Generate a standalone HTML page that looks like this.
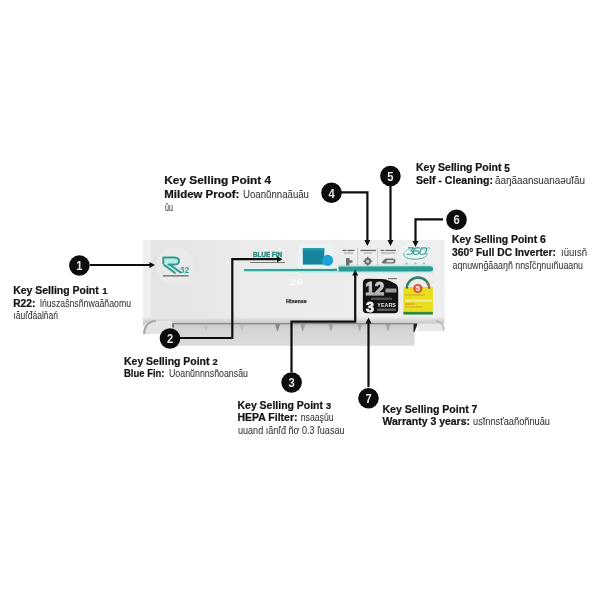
<!DOCTYPE html>
<html><head><meta charset="utf-8">
<style>
html,body{margin:0;padding:0;background:#fff;}
body{width:600px;height:600px;position:relative;overflow:hidden;font-family:"Liberation Sans",sans-serif;}
svg{position:absolute;left:0;top:0;will-change:transform;filter:blur(0.45px);}
</style></head>
<body>
<svg width="600" height="600" viewBox="0 0 600 600">
<defs>
  <linearGradient id="panel" x1="0" y1="0" x2="1" y2="0">
    <stop offset="0" stop-color="#e4e4e4"/>
    <stop offset="0.2" stop-color="#e7e7e7"/>
    <stop offset="0.35" stop-color="#ebebeb"/>
    <stop offset="1" stop-color="#eeeeee"/>
  </linearGradient>
  <linearGradient id="grille" x1="0" y1="0" x2="0" y2="1">
    <stop offset="0" stop-color="#a9a9a9"/>
    <stop offset="0.08" stop-color="#c8c8c8"/>
    <stop offset="0.3" stop-color="#d4d4d4"/>
    <stop offset="1" stop-color="#dcdcdc"/>
  </linearGradient>
  <linearGradient id="band" x1="0" y1="0" x2="0" y2="1">
    <stop offset="0" stop-color="#e8e8e8"/>
    <stop offset="0.45" stop-color="#d2d2d2"/>
    <stop offset="1" stop-color="#bababa"/>
  </linearGradient>
  <linearGradient id="lstrip" x1="0" y1="0" x2="1" y2="0">
    <stop offset="0" stop-color="#f4f4f4"/>
    <stop offset="0.3" stop-color="#ececec"/>
    <stop offset="0.8" stop-color="#f1f1f1"/>
    <stop offset="1" stop-color="#e8e8e8"/>
  </linearGradient>
  <linearGradient id="stripe" x1="0" y1="0" x2="1" y2="0">
    <stop offset="0" stop-color="#3aa79e"/>
    <stop offset="1" stop-color="#2a9a92"/>
  </linearGradient>
</defs>
<!-- grille -->
<rect x="172" y="322.5" width="242.5" height="23.3" fill="url(#grille)"/>
<g><path d="M203.5 324 L208.5 324 L206.3 331 L205.5 331 Z" fill="#c4c4c4"/><path d="M239.5 324 L244.5 324 L242.3 331 L241.5 331 Z" fill="#c2c2c2"/><path d="M275.1 324 L280.1 324 L277.90000000000003 331 L277.1 331 Z" fill="#8a8a8a"/><path d="M300.3 324 L305.3 324 L303.1 331 L302.3 331 Z" fill="#a0a0a0"/><path d="M328.5 324 L333.5 324 L331.3 331 L330.5 331 Z" fill="#a4a4a4"/><path d="M357.2 324 L362.2 324 L360.0 331 L359.2 331 Z" fill="#a8a8a8"/><path d="M385.5 324 L390.5 324 L388.3 331 L387.5 331 Z" fill="#a8a8a8"/></g>
<path d="M413.5 322.5 L417.6 322.5 L417.6 324 L414.5 332 L413.5 332 Z" fill="#222"/>
<rect x="172.5" y="322.5" width="1.2" height="5" fill="#444"/>
<!-- front panel -->
<rect x="143" y="240" width="301.5" height="79" fill="url(#panel)"/>
<rect x="142.5" y="240" width="9" height="79" fill="url(#lstrip)"/>
<rect x="433.3" y="240" width="11.2" height="79" fill="#efefef"/>
<!-- lip -->
<path d="M143 334 Q143 320 155 319 L172 319 L172 334 Z" fill="#e4e4e4"/>
<path d="M417.6 319 L435 319 Q444.8 319.5 444.8 329 L444.8 331.2 L417.6 331.2 Z" fill="#e8e8e8"/>
<path d="M143 317.5 L444.5 317.5 L444.5 323.5 L172 323.5 L172 321 L150 321 Q145 323 143 326 Z" fill="url(#band)"/>
<path d="M144.2 334 Q144.5 321.5 156 321" fill="none" stroke="#a9a9a9" stroke-width="2.2"/>

<path d="M436 321 Q443.5 321.5 443.5 330" fill="none" stroke="#b8b8b8" stroke-width="1.6"/>
<rect x="172" y="323" width="242" height="1.3" fill="#8a8a8a"/>
<!-- R32 logo -->
<circle cx="175" cy="266" r="19" fill="#eaeaea"/>
<path d="M164.5 258.5 L174 258.5 Q177.6 259 177.6 261 Q177.4 263.4 174 263.4 L164.5 263.4 Z M165 264.5 L170.5 264.5 L179.5 272 L174.5 272 Z" fill="#b4ebe4"/>
<g fill="none" stroke="#2e9a90" stroke-width="2" stroke-linejoin="round" stroke-linecap="round">
  <path d="M163.3 263.5 L163.3 257.4 L174.5 257.4 Q179 257.7 179 261 Q178.8 264.5 174.5 264.6 L168.5 264.6"/>
  <path d="M164.2 265 L175 273"/>
  <path d="M170.5 265 L180.5 272.5"/>
</g>
<text x="179.8" y="273" font-family="Liberation Sans" font-weight="bold" font-size="8.5" fill="#35a598" textLength="9.5" lengthAdjust="spacingAndGlyphs">32</text>
<rect x="163" y="275.2" width="25.7" height="1.3" fill="#6a6a6a"/>
<!-- blue fin -->
<rect x="244" y="266.8" width="60" height="6" fill="#d9f3ef" opacity="0.8"/>
<text x="253" y="256.6" font-family="Liberation Sans" font-weight="bold" font-size="6.3" fill="#358f86" stroke="#358f86" stroke-width="0.45" textLength="29" lengthAdjust="spacingAndGlyphs">BLUE FIN</text>
<rect x="250" y="262" width="35" height="1" fill="#777"/>
<path d="M244 269 L337 268.8 L337 271.3 L244 271.3 Z" fill="url(#stripe)"/>
<rect x="338" y="264.5" width="95.5" height="2" fill="#c4ecea"/>
<path d="M338.5 266.6 L430 266.2 Q433.2 266.4 433.2 269 Q433.2 271.6 430 271.7 L338.5 271.7 Z" fill="#2a9c94"/>
<rect x="300" y="271.7" width="133" height="1.6" fill="#c8ecea"/>
<!-- filter -->
<rect x="298" y="244.5" width="36" height="24" rx="3" fill="#e9f4f6"/>
<rect x="302.8" y="248.3" width="21.5" height="16.3" fill="#17869c"/>
<rect x="302.8" y="248.3" width="21.5" height="2.5" fill="#2596ac"/>
<circle cx="327.6" cy="260.4" r="5.6" fill="#1fa2d6"/>
<!-- 26 -->
<text x="289.3" y="285.3" font-family="Liberation Sans" font-weight="bold" font-size="8.2" fill="#fbfbfb" textLength="14" lengthAdjust="spacingAndGlyphs">26</text>
<!-- Hisense -->
<text x="286" y="302.9" font-family="Liberation Sans" font-weight="bold" font-size="4.6" fill="#333" stroke="#333" stroke-width="0.25" textLength="20.7" lengthAdjust="spacingAndGlyphs">Hisense</text>
<!-- control icons -->
<g fill="#6a6a6a">
  <rect x="342.5" y="249.8" width="4" height="1.3"/><rect x="347.5" y="249.8" width="7" height="1.3"/>
  <rect x="360.5" y="249.8" width="15.5" height="1.3"/>
  <rect x="380.5" y="249.8" width="4" height="1.3"/><rect x="385.5" y="249.8" width="10.5" height="1.3"/>
</g>
<g fill="#9a9a9a">
  <rect x="344" y="252.6" width="9" height="0.9"/>
  <rect x="364" y="252.6" width="8" height="0.9"/>
  <rect x="381" y="252.6" width="14" height="0.9"/>
</g>
<g fill="#6e6e6e">
  <path d="M346 258 L349.5 258 L349.5 260 L352.5 260.5 L352.5 262.5 L349.5 263 L349.5 265.5 L346 265.5 Z"/>
  <circle cx="367.7" cy="261.3" r="3.5"/>
  <path d="M381.5 262.5 L384 259.8 Q385 258.5 387 258.5 L392.5 258.5 Q395.5 258.7 395.5 261 Q395.3 263.6 392.5 263.6 L383 263.6 Z"/>
</g>
<g fill="#6e6e6e">
  <rect x="367" y="256.8" width="1.4" height="9"/><rect x="363.2" y="260.6" width="9" height="1.4"/>
</g>
<circle cx="367.7" cy="261.3" r="1.5" fill="#cfcfcf"/>
<path d="M387.5 260 L392 260 Q393.8 260.2 393.8 261 Q393.6 262.2 392 262.2 L386 262.2 Z" fill="#e2e2e2"/>
<rect x="357.4" y="248" width="0.7" height="18" fill="#c0c0c0"/>
<rect x="377.3" y="248" width="0.7" height="18" fill="#c0c0c0"/>
<!-- 360 logo -->
<ellipse cx="415.5" cy="252" rx="15" ry="10" fill="#eff5f5"/>
<path d="M404 252.5 Q401.5 258.8 415.2 259.3 Q428.5 258.8 427 252.5" fill="none" stroke="#4fa9a0" stroke-width="1"/>
<path d="M404.5 251.5 Q407 249.5 410 249.2 M421 249.2 Q425 249.6 426.5 251.3" fill="none" stroke="#7cc0b9" stroke-width="0.7"/>
<g fill="none" stroke="#2f9c92" stroke-width="1.15" stroke-linejoin="round" stroke-linecap="round">
<path d="M408.5 247.9 L413.8 247.9 L411 250.9 Q413 251 412.7 252.6 Q412.2 254.2 409.5 254.2 L406.9 254.2"/>
<path d="M419.6 247.9 L416.2 247.9 Q414.2 248.1 413.8 250.5 L413.3 252.5 Q413.1 254.2 415.2 254.2 L416.6 254.2 Q418.6 254.2 418.9 252.5 Q419.1 250.9 417.1 250.9 L414 250.9"/>
<path d="M422.2 247.9 L425.4 247.9 Q426.9 248.1 426.6 249.5 L425.6 252.8 Q425.1 254.2 423.6 254.2 L420.8 254.2 Q419.5 254 419.9 252.5 L420.9 249.1 Q421.3 247.9 422.2 247.9 Z"/>
</g>
<circle cx="429" cy="248.3" r="1" fill="none" stroke="#5fb3aa" stroke-width="0.6"/>
<g fill="#8cc4bf">
  <circle cx="406.5" cy="263.5" r="1.1"/>
  <circle cx="415.5" cy="263.5" r="1.1"/>
  <circle cx="424" cy="263.5" r="1.1"/>
</g>
<!-- warranty badge -->
<path d="M367.5 278.8 L382 279 Q386 279.2 390 281 L395 283.5 Q398.2 285.5 398.2 289 L398.2 309.5 Q398.2 313.3 394.5 313.3 L366.8 313.3 Q362.9 313.3 362.9 309.5 L362.9 283 Q362.9 278.8 367.5 278.8 Z" fill="#121212"/>
<defs><linearGradient id="g12" x1="0" y1="0" x2="0" y2="1"><stop offset="0" stop-color="#f0f0f0"/><stop offset="0.5" stop-color="#c8c8c8"/><stop offset="1" stop-color="#9a9a9a"/></linearGradient></defs><text x="365.3" y="294.6" font-family="Liberation Sans" font-weight="bold" font-size="18" fill="url(#g12)" stroke="#bdbdbd" stroke-width="1.1" textLength="19" lengthAdjust="spacingAndGlyphs">12</text>
<rect x="385.5" y="288.5" width="11" height="4" fill="#9a9a9a"/>
<rect x="372" y="294.6" width="12" height="0.8" fill="#888"/>
<rect x="371" y="297.5" width="21" height="2.5" fill="#4a4a4a"/>
<text x="366" y="312.2" font-family="Liberation Sans" font-weight="bold" font-size="14" fill="#eeeeee" stroke="#eeeeee" stroke-width="0.8" textLength="8" lengthAdjust="spacingAndGlyphs">3</text>
<text x="377.3" y="307.2" font-family="Liberation Sans" font-weight="bold" font-size="4.6" fill="#e4e4e4" textLength="18.7" lengthAdjust="spacingAndGlyphs">YEARS</text>
<rect x="377.3" y="308.5" width="18.7" height="2.5" fill="#5a5a5a"/>
<rect x="388" y="278" width="9" height="1.2" fill="#7a7a7a"/>
<!-- energy label -->
<path d="M405.5 288 A12.5 12 0 0 1 430.5 288 Z" fill="#ececec"/>
<rect x="403.4" y="287" width="29.5" height="25.6" fill="#e9dd1e"/>
<rect x="403.4" y="311.9" width="29.5" height="2.7" fill="#2e8a42"/>
<path d="M406.8 288.5 A11.2 11 0 0 1 429.2 288.5" fill="none" stroke="#2f7f62" stroke-width="2.4"/>
<path d="M427.5 282 A11.2 11 0 0 1 429.2 288.5" fill="none" stroke="#a8703a" stroke-width="2"/>
<circle cx="417.9" cy="288.5" r="4.6" fill="#d84c2c"/>
<circle cx="417.9" cy="288.5" r="3.4" fill="#e8684a"/>
<text x="416.1" y="291" font-family="Liberation Sans" font-weight="bold" font-size="6.5" fill="#fff">5</text>
<rect x="405" y="299.6" width="27" height="2" fill="#f4f0a0"/>
<rect x="405" y="294.5" width="20" height="0.9" fill="#b8a820"/>
<rect x="405" y="303.5" width="10" height="1" fill="#e08a30"/>
<rect x="405" y="306.5" width="18" height="0.9" fill="#c0b030"/>

<g stroke="#0e0e0e" stroke-width="2.2" fill="none">
  <path d="M90 265 L151 265"/>
  <path d="M180 338 L232.3 338 L232.3 259.2 L278 259.2"/>
  <path d="M291.5 372 L291.5 321.6 L355.2 321.6 L355.2 275"/>
  <path d="M341 192.3 L367.4 192.3 L367.4 241"/>
  <path d="M390.5 186 L390.5 241"/>
  <path d="M443 219.4 L415.5 219.4 L415.5 242"/>
  <path d="M368.5 387 L368.5 322"/>
</g>
<g fill="#0e0e0e">
  <path d="M155 265 L149.5 262 L149.5 268 Z"/>
  <path d="M282.5 259.2 L277 256.2 L277 262.2 Z"/>
  <path d="M355.2 269.8 L352.2 275.5 L358.2 275.5 Z"/>
  <path d="M367.4 246 L364.4 240 L370.4 240 Z"/>
  <path d="M390.5 246 L387.5 240 L393.5 240 Z"/>
  <path d="M415.5 247 L412.5 241 L418.5 241 Z"/>
  <path d="M368.5 317.5 L365.5 323.5 L371.5 323.5 Z"/>
</g>
<circle cx="79.4" cy="265.5" r="10.3" fill="#0c0c0c"/><text x="76.30000000000001" y="270.2" font-family="Liberation Sans" font-weight="bold" font-size="13" fill="#e6e6e6" textLength="6.2" lengthAdjust="spacingAndGlyphs">1</text><circle cx="170" cy="338.5" r="10.3" fill="#0c0c0c"/><text x="166.9" y="343.2" font-family="Liberation Sans" font-weight="bold" font-size="13" fill="#e6e6e6" textLength="6.2" lengthAdjust="spacingAndGlyphs">2</text><circle cx="291.6" cy="382.5" r="10.3" fill="#0c0c0c"/><text x="288.5" y="387.2" font-family="Liberation Sans" font-weight="bold" font-size="13" fill="#e6e6e6" textLength="6.2" lengthAdjust="spacingAndGlyphs">3</text><circle cx="331.5" cy="192.8" r="10.3" fill="#0c0c0c"/><text x="328.4" y="197.5" font-family="Liberation Sans" font-weight="bold" font-size="13" fill="#e6e6e6" textLength="6.2" lengthAdjust="spacingAndGlyphs">4</text><circle cx="390.4" cy="176" r="10.3" fill="#0c0c0c"/><text x="387.29999999999995" y="180.7" font-family="Liberation Sans" font-weight="bold" font-size="13" fill="#e6e6e6" textLength="6.2" lengthAdjust="spacingAndGlyphs">5</text><circle cx="456.5" cy="219.7" r="10.3" fill="#0c0c0c"/><text x="453.4" y="224.39999999999998" font-family="Liberation Sans" font-weight="bold" font-size="13" fill="#e6e6e6" textLength="6.2" lengthAdjust="spacingAndGlyphs">6</text><circle cx="368.5" cy="398.3" r="10.3" fill="#0c0c0c"/><text x="365.4" y="403.0" font-family="Liberation Sans" font-weight="bold" font-size="13" fill="#e6e6e6" textLength="6.2" lengthAdjust="spacingAndGlyphs">7</text>
<text x="13.2" y="293.5" font-family="Liberation Sans" font-weight="bold" font-size="10" fill="#151515" stroke="#151515" stroke-width="0.22" textLength="85.5" lengthAdjust="spacingAndGlyphs" >Key Selling Point</text><text x="102.2" y="293.7" font-family="Liberation Sans" font-weight="bold" font-size="9.5" fill="#151515" stroke="#151515" stroke-width="0.22" textLength="5.3" lengthAdjust="spacingAndGlyphs" >1</text><text x="13.2" y="306.5" font-family="Liberation Sans" font-weight="bold" font-size="10" fill="#151515" stroke="#151515" stroke-width="0.22" textLength="22.2" lengthAdjust="spacingAndGlyphs" >R22:</text><text x="40" y="306.5" font-family="Liberation Sans" font-size="10.2" fill="#333333" stroke="#333333" stroke-width="0.05" textLength="91" lengthAdjust="spacingAndGlyphs" >lńuszaŝnsñnwaăñaomu</text><text x="13.5" y="318.5" font-family="Liberation Sans" font-size="10.2" fill="#333333" stroke="#333333" stroke-width="0.05" textLength="44.5" lengthAdjust="spacingAndGlyphs" >ıăuľđáalňań</text><text x="164.3" y="184" font-family="Liberation Sans" font-weight="bold" font-size="11" fill="#151515" stroke="#151515" stroke-width="0.22" textLength="106.8" lengthAdjust="spacingAndGlyphs" >Key Selling Point 4</text><text x="164.3" y="197.5" font-family="Liberation Sans" font-weight="bold" font-size="11" fill="#151515" stroke="#151515" stroke-width="0.22" textLength="75" lengthAdjust="spacingAndGlyphs" >Mildew Proof:</text><text x="243" y="197.5" font-family="Liberation Sans" font-size="11.5" fill="#333333" stroke="#333333" stroke-width="0.05" textLength="66" lengthAdjust="spacingAndGlyphs" >Uoanŭnnaãuău</text><text x="165" y="211" font-family="Liberation Sans" font-size="11.5" fill="#333333" stroke="#333333" stroke-width="0.05" textLength="8" lengthAdjust="spacingAndGlyphs" >ǔu</text><text x="416" y="171" font-family="Liberation Sans" font-weight="bold" font-size="10" fill="#151515" stroke="#151515" stroke-width="0.22" textLength="85.5" lengthAdjust="spacingAndGlyphs" >Key Selling Point</text><text x="504.2" y="171.5" font-family="Liberation Sans" font-weight="bold" font-size="10" fill="#151515" stroke="#151515" stroke-width="0.22" textLength="5.6" lengthAdjust="spacingAndGlyphs" >5</text><text x="416" y="184" font-family="Liberation Sans" font-weight="bold" font-size="10" fill="#151515" stroke="#151515" stroke-width="0.22" textLength="77" lengthAdjust="spacingAndGlyphs" >Self - Cleaning:</text><text x="495" y="184" font-family="Liberation Sans" font-size="10.2" fill="#333333" stroke="#333333" stroke-width="0.05" textLength="90" lengthAdjust="spacingAndGlyphs" >ăaŋãaansuanaəuĭău</text><text x="452" y="243" font-family="Liberation Sans" font-weight="bold" font-size="10" fill="#151515" stroke="#151515" stroke-width="0.22" textLength="93.8" lengthAdjust="spacingAndGlyphs" >Key Selling Point 6</text><text x="452" y="255.5" font-family="Liberation Sans" font-weight="bold" font-size="10" fill="#151515" stroke="#151515" stroke-width="0.22" textLength="104" lengthAdjust="spacingAndGlyphs" >360° Full DC Inverter:</text><text x="561" y="255.5" font-family="Liberation Sans" font-size="10.2" fill="#333333" stroke="#333333" stroke-width="0.05" textLength="26" lengthAdjust="spacingAndGlyphs" >ıüuısň</text><text x="452.5" y="268.5" font-family="Liberation Sans" font-size="10.2" fill="#333333" stroke="#333333" stroke-width="0.05" textLength="130.5" lengthAdjust="spacingAndGlyphs" >aqnuwnğãaaŋñ nnsľčŋnuıñuaanu</text><text x="124" y="364.5" font-family="Liberation Sans" font-weight="bold" font-size="10" fill="#151515" stroke="#151515" stroke-width="0.22" textLength="85.5" lengthAdjust="spacingAndGlyphs" >Key Selling Point</text><text x="212.5" y="364.8" font-family="Liberation Sans" font-weight="bold" font-size="9" fill="#151515" stroke="#151515" stroke-width="0.22" textLength="5.2" lengthAdjust="spacingAndGlyphs" >2</text><text x="124" y="377.2" font-family="Liberation Sans" font-weight="bold" font-size="10" fill="#151515" stroke="#151515" stroke-width="0.22" textLength="40.5" lengthAdjust="spacingAndGlyphs" >Blue Fin:</text><text x="169" y="377.2" font-family="Liberation Sans" font-size="10.2" fill="#333333" stroke="#333333" stroke-width="0.05" textLength="79" lengthAdjust="spacingAndGlyphs" >Uoanŭnnnsñoansău</text><text x="237.5" y="408.5" font-family="Liberation Sans" font-weight="bold" font-size="10" fill="#151515" stroke="#151515" stroke-width="0.22" textLength="85.5" lengthAdjust="spacingAndGlyphs" >Key Selling Point</text><text x="325.8" y="408.5" font-family="Liberation Sans" font-weight="bold" font-size="9.5" fill="#151515" stroke="#151515" stroke-width="0.22" textLength="5.4" lengthAdjust="spacingAndGlyphs" >3</text><text x="237.5" y="421.2" font-family="Liberation Sans" font-weight="bold" font-size="10" fill="#151515" stroke="#151515" stroke-width="0.22" textLength="60" lengthAdjust="spacingAndGlyphs" >HEPA Filter:</text><text x="300.7" y="421.2" font-family="Liberation Sans" font-size="10.2" fill="#333333" stroke="#333333" stroke-width="0.05" textLength="33.0" lengthAdjust="spacingAndGlyphs" >nsaaşǔu</text><text x="238" y="434" font-family="Liberation Sans" font-size="10.2" fill="#333333" stroke="#333333" stroke-width="0.05" textLength="106.5" lengthAdjust="spacingAndGlyphs" >uuand ıãnľđ ñơ 0.3 ľuasau</text><text x="382.5" y="412.5" font-family="Liberation Sans" font-weight="bold" font-size="10" fill="#151515" stroke="#151515" stroke-width="0.22" textLength="95" lengthAdjust="spacingAndGlyphs" >Key Selling Point 7</text><text x="382.5" y="424.5" font-family="Liberation Sans" font-weight="bold" font-size="10" fill="#151515" stroke="#151515" stroke-width="0.22" textLength="87.5" lengthAdjust="spacingAndGlyphs" >Warranty 3 years:</text><text x="473" y="424.5" font-family="Liberation Sans" font-size="10.2" fill="#333333" stroke="#333333" stroke-width="0.05" textLength="77" lengthAdjust="spacingAndGlyphs" >usĭnnsťaañoñnuău</text>
</svg>
</body></html>
